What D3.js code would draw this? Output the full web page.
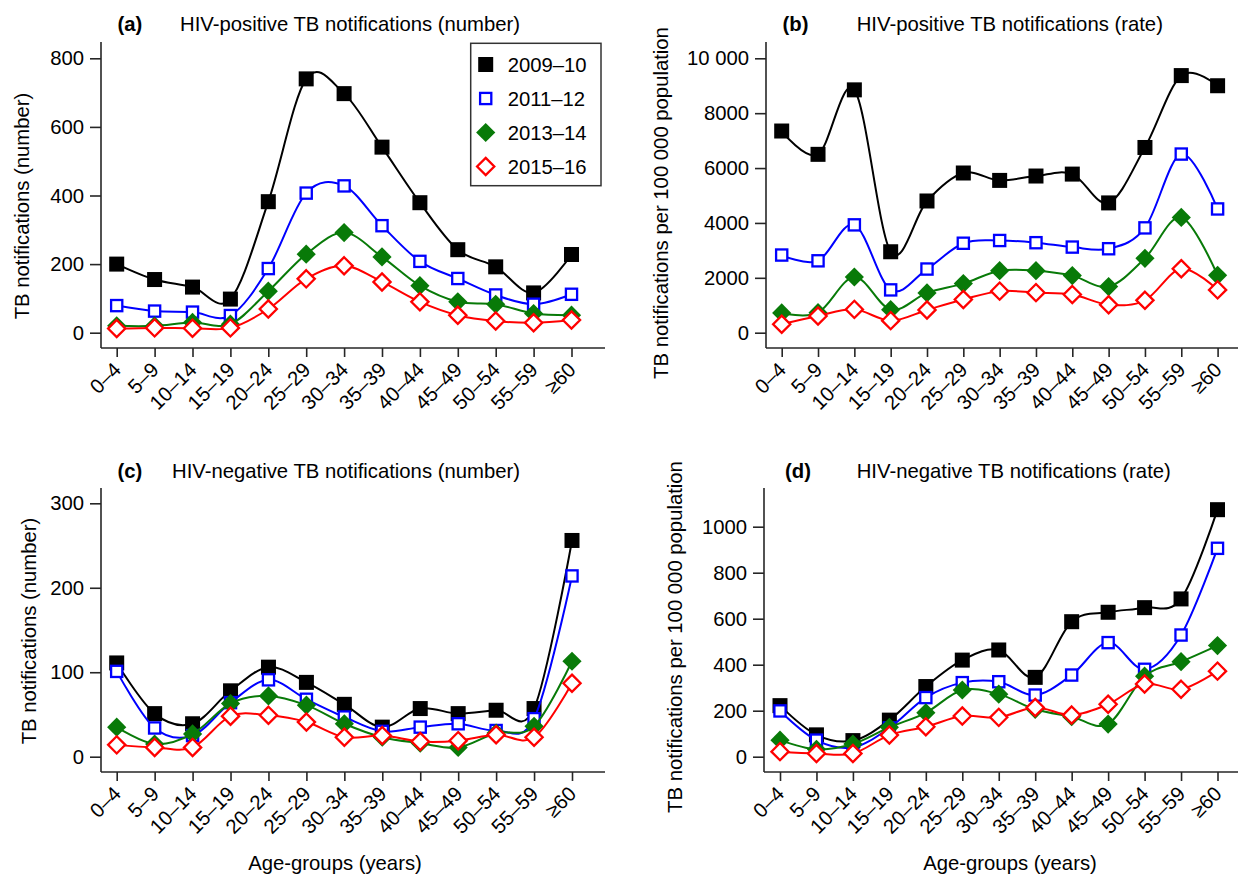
<!DOCTYPE html>
<html><head><meta charset="utf-8">
<script src="https://cdn.jsdelivr.net/npm/d3@7"></script>
<style>
body{margin:0;background:#fff;}
svg{display:block;font-family:"Liberation Sans",Arial,sans-serif;}
</style>
</head><body>
<svg id="chart" width="1238" height="875"></svg>
<script>
// ---------- DATA ----------
const ageGroups = ["0–4","5–9","10–14","15–19","20–24","25–29","30–34","35–39","40–44","45–49","50–54","55–59","≥60"];
const seriesLabels = ["2009–10","2011–12","2013–14","2015–16"];

// (a) HIV-positive TB notifications (number)
const posNum0910 = [200, 155, 133, 98, 382, 740, 697, 541, 379, 242, 192, 116, 228];
const posNum1112 = [79, 63, 60, 50, 187, 407, 428, 312, 208, 158, 110, 83, 112];
const posNum1314 = [20, 20, 30, 25, 121, 229, 292, 221, 137, 90, 83, 56, 51];
const posNum1516 = [12, 14, 13, 14, 69, 157, 195, 148, 90, 51, 34, 29, 37];

// (b) HIV-positive TB notifications (rate per 100 000)
const posRate0910 = [7350, 6500, 8850, 2950, 4800, 5820, 5550, 5710, 5780, 4730, 6750, 9370, 9000];
const posRate1112 = [2830, 2620, 3930, 1560, 2320, 3260, 3360, 3280, 3120, 3060, 3820, 6510, 4510];
const posRate1314 = [720, 730, 2030, 840, 1450, 1790, 2260, 2260, 2080, 1680, 2710, 4200, 2090];
const posRate1516 = [310, 610, 850, 440, 830, 1210, 1515, 1460, 1390, 1020, 1180, 2330, 1560];

// (c) HIV-negative TB notifications (number)
const negNum0910 = [111, 51, 39, 78, 106, 88, 62, 35, 57, 51, 55, 57, 256];
const negNum1112 = [101, 34, 25, 64, 91, 68, 47, 30, 35, 39, 31, 45, 214];
const negNum1314 = [35, 15, 27, 63, 72, 61, 39, 23, 16, 11, 28, 36, 113];
const negNum1516 = [14, 11, 11, 48, 49, 41, 23, 25, 18, 19, 26, 23, 87];

// (d) HIV-negative TB notifications (rate per 100 000)
const negRate0910 = [222, 95, 70, 159, 305, 420, 464, 345, 587, 628, 648, 686, 1074];
const negRate1112 = [199, 72, 40, 125, 257, 322, 326, 268, 355, 496, 380, 529, 906];
const negRate1314 = [72, 32, 55, 128, 191, 290, 272, 206, 174, 142, 350, 413, 483];
const negRate1516 = [22, 14, 14, 94, 130, 177, 171, 214, 181, 228, 316, 293, 372];

// tick values
const ticksPosNum = [0, 200, 400, 600, 800];
const ticksPosRate = [0, 2000, 4000, 6000, 8000, 10000];
const ticksNegNum = [0, 100, 200, 300];
const ticksNegRate = [0, 200, 400, 600, 800, 1000];

// ---------- STYLE / LAYOUT ----------
const colors = ["#000000", "#0000ff", "#087a08", "#ff0000"];
const markerTypes = ["squareFilled", "squareOpen", "diamondFilled", "diamondOpen"];
const FS = 20.3;
const FONT = "Liberation Sans";
const axisColor = "#262626";

const panels = [
  {data:[posNum0910,posNum1112,posNum1314,posNum1516], ticks:ticksPosNum, domain:[0,800],
   left:101, right:605, top:42, bottom:348, x0:116.7, x1:571.5, yLo:332.7, yHi:58.3,
   letter:"(a)", letterX:117.5, title:"HIV-positive TB notifications (number)", titleX:180, titleY:31,
   ylabel:"TB notifications (number)", ylabelX:28.5, ylabelY:206, legend:true},
  {data:[posRate0910,posRate1112,posRate1314,posRate1516], ticks:ticksPosRate, domain:[0,10000],
   left:766, right:1238, top:42, bottom:348, x0:781.7, x1:1217.6, yLo:332.7, yHi:58.3,
   letter:"(b)", letterX:782.5, title:"HIV-positive TB notifications (rate)", titleX:856.7, titleY:31,
   ylabel:"TB notifications per 100 000 population", ylabelX:667.5, ylabelY:203},
  {data:[negNum0910,negNum1112,negNum1314,negNum1516], ticks:ticksNegNum, domain:[0,300],
   left:101, right:605, top:488, bottom:772, x0:116.7, x1:572, yLo:756.7, yHi:503.3,
   letter:"(c)", letterX:117.5, title:"HIV-negative TB notifications (number)", titleX:172, titleY:478,
   ylabel:"TB notifications (number)", ylabelX:36, ylabelY:631,
   xlabel:"Age-groups (years)", xlabelX:335, xlabelY:870},
  {data:[negRate0910,negRate1112,negRate1314,negRate1516], ticks:ticksNegRate, domain:[0,1000],
   left:764, right:1238, top:488, bottom:772, x0:780, x1:1217.5, yLo:756.7, yHi:526.7,
   letter:"(d)", letterX:785, title:"HIV-negative TB notifications (rate)", titleX:856.7, titleY:478,
   ylabel:"TB notifications per 100 000 population", ylabelX:681.5, ylabelY:637,
   xlabel:"Age-groups (years)", xlabelX:1010, xlabelY:870}
];

const svg = d3.select("#chart");

function drawMarker(g, type, color, cx, cy) {
  if (type === "squareFilled") {
    g.append("rect").attr("x", cx-7.5).attr("y", cy-7.5).attr("width", 15).attr("height", 15)
      .attr("fill", color);
  } else if (type === "squareOpen") {
    g.append("rect").attr("x", cx-5.6).attr("y", cy-5.6).attr("width", 11.2).attr("height", 11.2)
      .attr("fill", "#fff").attr("stroke", color).attr("stroke-width", 2.3);
  } else if (type === "diamondFilled") {
    const r = 9.6;
    g.append("path").attr("d", `M${cx},${cy-r}L${cx+r},${cy}L${cx},${cy+r}L${cx-r},${cy}Z`)
      .attr("fill", color);
  } else {
    const r = 8.6;
    g.append("path").attr("d", `M${cx},${cy-r}L${cx+r},${cy}L${cx},${cy+r}L${cx-r},${cy}Z`)
      .attr("fill", "#fff").attr("stroke", color).attr("stroke-width", 2.3);
  }
}

const fmt = d => d === 10000 ? "10 000" : String(d);

panels.forEach(p => {
  const g = svg.append("g");
  const x = d3.scalePoint().domain(ageGroups).range([p.x0, p.x1]).padding(0);
  const y = d3.scaleLinear().domain(p.domain).range([p.yLo, p.yHi]);

  // y axis
  const ya = g.append("g").attr("transform", `translate(${p.left},0)`)
    .call(d3.axisLeft(y).tickValues(p.ticks).tickSize(11).tickPadding(6).tickFormat(fmt));
  ya.select(".domain").remove();
  ya.attr("font-size", FS).attr("font-family", FONT);
  ya.selectAll(".tick line").attr("stroke", axisColor).attr("stroke-width", 1.6);
  ya.selectAll(".tick text").attr("fill", "#000");

  // x axis
  const xa = g.append("g").attr("transform", `translate(0,${p.bottom})`)
    .call(d3.axisBottom(x).tickSize(9).tickSizeOuter(0));
  xa.select(".domain").remove();
  xa.attr("font-size", FS).attr("font-family", FONT);
  xa.selectAll(".tick line").attr("stroke", axisColor).attr("stroke-width", 1.6);
  xa.selectAll(".tick text").attr("fill", "#000").attr("x", 0).attr("y", 0).attr("dy", 0)
    .attr("text-anchor", "end").attr("transform", "translate(5,23) rotate(-45)");

  // axis lines
  g.append("line").attr("x1", p.left).attr("x2", p.left).attr("y1", p.top).attr("y2", p.bottom)
    .attr("stroke", axisColor).attr("stroke-width", 1.6);
  g.append("line").attr("x1", p.left).attr("x2", p.right).attr("y1", p.bottom).attr("y2", p.bottom)
    .attr("stroke", axisColor).attr("stroke-width", 1.6);

  // series
  const line = d3.line().x((d,i) => x(ageGroups[i])).y(d => y(d)).curve(d3.curveCardinal.tension(0));
  p.data.forEach((vals, si) => {
    const sg = g.append("g");
    sg.append("path").attr("d", line(vals)).attr("fill", "none")
      .attr("stroke", colors[si]).attr("stroke-width", 2);
    vals.forEach((v, i) => drawMarker(sg, markerTypes[si], colors[si], x(ageGroups[i]), y(v)));
  });

  // titles
  g.append("text").attr("x", p.letterX).attr("y", p.titleY).attr("font-size", FS)
    .attr("font-weight", "bold").text(p.letter);
  g.append("text").attr("x", p.titleX).attr("y", p.titleY).attr("font-size", FS).text(p.title);
  g.append("text").attr("transform", `translate(${p.ylabelX},${p.ylabelY}) rotate(-90)`)
    .attr("text-anchor", "middle").attr("font-size", FS).text(p.ylabel);
  if (p.xlabel) {
    g.append("text").attr("x", p.xlabelX).attr("y", p.xlabelY).attr("text-anchor", "middle")
      .attr("font-size", FS).text(p.xlabel);
  }

  // legend
  if (p.legend) {
    const lg = g.append("g");
    lg.append("rect").attr("x", 470.7).attr("y", 43.3).attr("width", 130.3).attr("height", 142.4)
      .attr("fill", "#fff").attr("stroke", "#333").attr("stroke-width", 1.5);
    seriesLabels.forEach((lab, si) => {
      const cy = 64.5 + si * 34;
      drawMarker(lg, markerTypes[si], colors[si], 485.7, cy);
      lg.append("text").attr("x", 507.7).attr("y", cy).attr("dy", "0.36em")
        .attr("font-size", FS).text(lab);
    });
  }
});
</script>
</body></html>
